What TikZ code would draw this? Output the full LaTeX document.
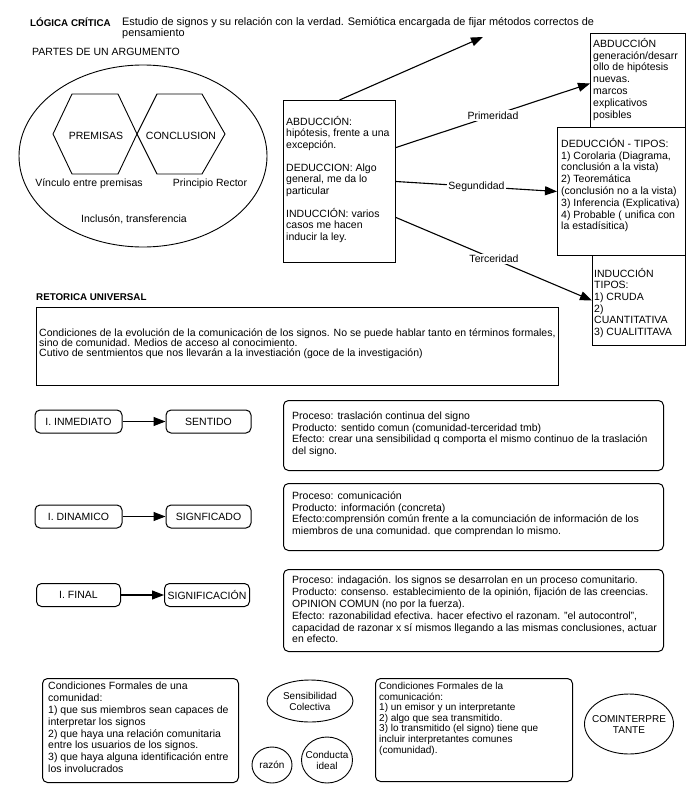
\documentclass[tikz,border=0pt]{standalone}
\usepackage{fontspec}
\setmainfont{Liberation Sans}
\usetikzlibrary{arrows.meta,positioning,shapes.geometric}

\tikzset{
  caja/.style={draw,line width=1pt,inner sep=0pt,anchor=north west},
  cajared/.style={draw,line width=1pt,rounded corners=5pt,inner sep=2pt,font=\fontsize{10.5}{12}\selectfont},
  texto/.style={font=\fontsize{10.5}{11.5}\selectfont,align=left,inner sep=0pt,anchor=north west},
  rotulo/.style={font=\fontsize{10.5}{11.5}\selectfont,align=center,inner sep=0pt},
  titulo/.style={font=\bfseries\fontsize{9.8}{12}\selectfont,inner sep=0pt,anchor=base west},
  flecha/.style={line width=1.1pt,-{Triangle[length=12pt,width=9pt]}},
  etiqueta/.style={font=\fontsize{10.5}{12}\selectfont,fill=white,inner sep=1.5pt},
  globo/.style={draw,ellipse,line width=0.9pt,inner sep=0pt},
}

\begin{document}
\begin{tikzpicture}[x=1pt,y=-1pt]
\useasboundingbox (0,0) rectangle (700,790);

% logica critica
\node[titulo] (logica) at (30,26) {LÓGICA CRÍTICA};
\node[texto,font=\fontsize{10.9}{11.2}\selectfont] (estudio) at (122,17) {Estudio de signos y su relación con la verdad. Semiótica encargada de fijar métodos correctos de\\pensamiento};
\node[titulo,font=\fontsize{10.5}{12}\selectfont] (partes) at (32,55) {PARTES DE UN ARGUMENTO};

% partes de un argumento
\node[globo,minimum width=248,minimum height=182] (argumento) at (143,156) {};
\draw[line width=0.9pt] (53,134) -- (72,94) -- (118,94) -- (137,134) -- (118,174) -- (72,174) -- cycle;
\draw[line width=0.9pt] (137,134) -- (157,94) -- (202,94) -- (225,134) -- (202,174) -- (157,174) -- cycle;
\node[rotulo] (premisas) at (96,136) {PREMISAS};
\node[rotulo] (conclusion) at (181,136) {CONCLUSION};
\node[rotulo] (vinculo) at (89,184) {Vínculo entre premisas};
\node[rotulo] (rector) at (210,184) {Principio Rector};
\node[rotulo] (inclusion) at (134,219) {Inclusón, transferencia};

% metodos
\node[caja,minimum width=112,minimum height=162] (metodos) at (283,100) {};
\node[texto] (metodostxt) at ([shift={(3,16)}]metodos.north west) {ABDUCCIÓN:\\hipótesis, frente a una\\excepción.\\[11.5pt]DEDUCCION: Algo\\general, me da lo\\particular\\[11.5pt]INDUCCIÓN: varios\\casos me hacen\\inducir la ley.};

\node[caja,minimum width=95,minimum height=100] (abduccion) at (590,33) {};
\node[texto,font=\fontsize{10.5}{11.8}\selectfont] (abducciontxt) at ([shift={(3,5)}]abduccion.north west) {ABDUCCIÓN\\generación/desarr\\ollo de hipótesis\\nuevas.\\marcos\\explicativos\\posibles};
\node[caja,fill=white,minimum width=128,minimum height=128] (deduccion) at (557,127) {};
\node[texto,font=\fontsize{10.5}{11.8}\selectfont] (deducciontxt) at ([shift={(4,11)}]deduccion.north west) {DEDUCCIÓN - TIPOS:\\1) Corolaria (Diagrama,\\conclusión a la vista)\\2) Teoremática\\(conclusión no a la vista)\\3) Inferencia (Explicativa)\\4) Probable ( unifica con\\la estadísitica)};
\node[caja,minimum width=93,minimum height=90] (induccion) at (592,255) {};
\node[texto,font=\fontsize{10.5}{11.6}\selectfont] (induccitxt) at ([shift={(2,13)}]induccion.north west) {INDUCCIÓN\\TIPOS:\\1) CRUDA\\2)\\CUANTITATIVA\\3) CUALITITAVA};

\coordinate (semiotica) at (483,37);
\draw[flecha] (metodos.north) -- (semiotica);
\draw[flecha] ([yshift=34]metodos.east) -- node[etiqueta] (primeridad) {Primeridad} (abduccion.west);
\draw[flecha] (metodos.east) -- node[etiqueta] (segundidad) {Segundidad} (deduccion.west);
\draw[flecha] ([yshift=-36]metodos.east) -- node[etiqueta] (terceridad) {Terceridad} (induccion.west);

% retorica universal
\node[titulo] (retorica) at (36,300) {RETORICA UNIVERSAL};
\node[caja,minimum width=522,minimum height=78] (retoricacaja) at (36,307) {};
\node[texto,font=\fontsize{10.5}{10}\selectfont] (retoricatxt) at ([shift={(3,22)}]retoricacaja.north west) {Condiciones de la evolución de la comunicación de los signos. No se puede hablar tanto en términos formales,\\sino de comunidad. Medios de acceso al conocimiento.\\Cutivo de sentmientos que nos llevarán a la investiación (goce de la investigación)};

% interpretantes
\node[cajared,minimum width=87,minimum height=23] (inmediato) at (78.5,421.5) {I. INMEDIATO};
\node[cajared,minimum width=85,minimum height=23,right=43pt of inmediato] (sentido) {SENTIDO};
\node[cajared,minimum width=87,minimum height=23] (dinamico) at (78.5,516.5) {I. DINAMICO};
\node[cajared,minimum width=85,minimum height=23,right=43pt of dinamico] (significado) {SIGNFICADO};
\node[cajared,minimum width=84,minimum height=23] (final) at (78.5,595) {I. FINAL};
\node[cajared,minimum width=85,minimum height=23,right=43pt of final] (significacion) {SIGNIFICACIÓN};
\draw[flecha] (inmediato) -- (sentido);
\draw[flecha] (dinamico) -- (significado);
\draw[flecha] (final) -- (significacion);

\node[cajared,anchor=north west,minimum width=380,minimum height=70] (proceso1) at (283,400) {};
\node[texto] (proceso1txt) at ([shift={(9,12)}]proceso1.north west) {Proceso: traslación continua del signo\\Producto: sentido comun (comunidad-terceridad tmb)\\Efecto: crear una sensibilidad q comporta el mismo continuo de la traslación\\del signo.};
\node[cajared,anchor=north west,minimum width=380,minimum height=67] (proceso2) at (283,483) {};
\node[texto] (proceso2txt) at ([shift={(9,9)}]proceso2.north west) {Proceso: comunicación\\Producto: información (concreta)\\Efecto:comprensión común frente a la comunciación de información de los\\miembros de una comunidad. que comprendan lo mismo.};
\node[cajared,anchor=north west,minimum width=380,minimum height=82] (proceso3) at (283,569) {};
\node[texto,font=\fontsize{10.5}{11.8}\selectfont] (proceso3txt) at ([shift={(9,7)}]proceso3.north west) {Proceso: indagación. los signos se desarrolan en un proceso comunitario.\\Producto: consenso. establecimiento de la opinión, fijación de las creencias.\\OPINION COMUN (no por la fuerza).\\Efecto: razonabilidad efectiva. hacer efectivo el razonam. "el autocontrol",\\capacidad de razonar x sí mismos llegando a las mismas conclusiones, actuar\\en efecto.};

% condiciones formales
\node[cajared,anchor=north west,minimum width=196,minimum height=104] (comunidad) at (42,678) {};
\node[texto,font=\fontsize{10.5}{11.8}\selectfont] (comunidadtxt) at ([shift={(6,4)}]comunidad.north west) {Condiciones Formales de una\\comunidad:\\1) que sus miembros sean capaces de\\interpretar los signos\\2) que haya una relación comunitaria\\entre los usuarios de los signos.\\3) que haya alguna identificación entre\\los involucrados};
\node[globo,minimum width=86,minimum height=42] (sensibilidad) at (310,701) {};
\node[rotulo,font=\fontsize{10}{11}\selectfont] (sensibilidadtxt) at (sensibilidad) {Sensibilidad\\Colectiva};
\node[globo,minimum width=40,minimum height=36] (razon) at (272,765) {};
\node[rotulo,font=\fontsize{10}{11}\selectfont] (razontxt) at (razon) {razón};
\node[globo,minimum width=51,minimum height=46] (conducta) at (327,760) {};
\node[rotulo,font=\fontsize{10}{11}\selectfont] (conductatxt) at (conducta) {Conducta\\ideal};
\node[cajared,anchor=north west,minimum width=197,minimum height=103] (comunicacion) at (375,678) {};
\node[texto,font=\fontsize{10}{10.6}\selectfont] (comunicaciontxt) at ([shift={(4,4)}]comunicacion.north west) {Condiciones Formales de la\\comunicación:\\1) un emisor y un interpretante\\2) algo que sea transmitido.\\3) lo transmitido (el signo) tiene que\\incluir interpretantes comunes\\(comunidad).};
\node[globo,minimum width=89,minimum height=60] (cominterpretante) at (629,724) {};
\node[rotulo,font=\fontsize{10}{11}\selectfont] (cominterpretantetxt) at (cominterpretante) {COMINTERPRE\\TANTE};
\end{tikzpicture}
\end{document}
